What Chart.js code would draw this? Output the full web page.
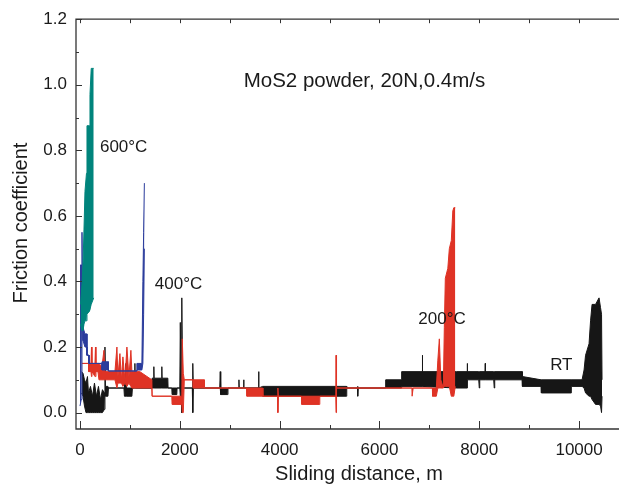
<!DOCTYPE html>
<html>
<head>
<meta charset="utf-8">
<script src="https://cdn.jsdelivr.net/npm/chart.js@4.4.0/dist/chart.umd.min.js"></script>
<style>
  html, body { margin: 0; padding: 0; background: #fff; }
  #wrap { width: 619px; height: 486px; position: relative; }
</style>
</head>
<body>
<div id="wrap"><canvas id="friction"></canvas></div>
<script>
// Friction coefficient vs sliding distance (MoS2 powder, 20N, 0.4m/s)
const FONT = '"Liberation Sans", Arial, Helvetica, sans-serif';

// axis ticks
const xMajorTicks = [0, 2000, 4000, 6000, 8000, 10000];
const xMinorTicks = [1000, 3000, 5000, 7000, 9000];
const yMajorTicks = [0, 0.2, 0.4, 0.6, 0.8, 1.0, 1.2];
const yMinorTicks = [0.1, 0.3, 0.5, 0.7, 0.9, 1.1];

// every run is drawn as the band between its upper and lower trace
// 600°C (teal)
const t600Dist = [10, 40, 60, 80, 100, 130, 140, 190, 200, 225, 275];
const t600Hi   = [0.33, 0.39, 0.45, 0.56, 0.675, 0.73, 0.875, 0.875, 0.97, 1.05, 1.05];
const t600Lo   = [0.27, 0.25, 0.25, 0.27, 0.28, 0.28, 0.30, 0.31, 0.31, 0.33, 0.35];

// 400°C (blue)
const t400Dist = [0, 25, 40, 55, 60, 100, 140, 140, 180, 180, 440, 440, 570, 570, 1140, 1140, 1240, 1260, 1275, 1290];
const t400Hi   = [0.45, 0.45, 0.55, 0.32, 0.26, 0.24, 0.24, 0.175, 0.175, 0.15, 0.15, 0.155, 0.155, 0.127, 0.127, 0.15, 0.15, 0.40, 0.55, 0.70];
const t400Lo   = [0.02, 0.04, 0.28, 0.28, 0.22, 0.20, 0.20, 0.175, 0.175, 0.15, 0.15, 0.13, 0.13, 0.127, 0.127, 0.13, 0.13, 0.15, 0.30, 0.50];

// 200°C (red)
const t200Dist = [40, 170, 175, 220, 230, 240, 300, 310, 320, 360,
                  380, 440, 480, 500, 700, 740, 760, 800, 830, 860,
                  900, 940, 980, 1020, 1040, 1200, 1440, 1445, 1840, 1845,
                  2040, 2050, 2070, 2090, 2260, 2265, 2490, 2495, 3340, 3345,
                  3660, 3665, 3960, 3965, 3975, 4440, 4445, 4800, 4805, 5125,
                  5130, 5140, 6650, 6655, 6670, 6675, 7060, 7065, 7140, 7170,
                  7200, 7230, 7280, 7300, 7320, 7370, 7400, 7440, 7470, 7490,
                  7520];
const t200Hi   = [0.15, 0.15, 0.15, 0.15, 0.20, 0.15, 0.15, 0.20, 0.15, 0.15,
                  0.15, 0.14, 0.19, 0.125, 0.125, 0.20, 0.11, 0.18, 0.10, 0.17,
                  0.10, 0.20, 0.11, 0.19, 0.125, 0.125, 0.10, 0.05, 0.05, 0.05,
                  0.05, 0.225, 0.12, 0.10, 0.10, 0.10, 0.10, 0.075, 0.075, 0.075,
                  0.075, 0.05, 0.05, 0.075, 0.05, 0.05, 0.05, 0.05, 0.05, 0.05,
                  0.175, 0.075, 0.075, 0.075, 0.075, 0.075, 0.075, 0.075, 0.075, 0.16,
                  0.225, 0.10, 0.075, 0.26, 0.41, 0.44, 0.50, 0.525, 0.615, 0.625,
                  0.625];
const t200Lo   = [0.15, 0.15, 0.125, 0.125, 0.11, 0.125, 0.11, 0.11, 0.125, 0.125,
                  0.10, 0.10, 0.10, 0.10, 0.10, 0.075, 0.09, 0.09, 0.09, 0.08,
                  0.09, 0.08, 0.09, 0.08, 0.075, 0.075, 0.075, 0.05, 0.05, 0.025,
                  0.025, 0.0, 0.0, 0.10, 0.10, 0.075, 0.075, 0.075, 0.075, 0.05,
                  0.05, 0.05, 0.05, 0.0, 0.05, 0.05, 0.025, 0.025, 0.05, 0.05,
                  0.0, 0.075, 0.075, 0.05, 0.05, 0.075, 0.075, 0.05, 0.05, 0.075,
                  0.075, 0.075, 0.075, 0.08, 0.08, 0.08, 0.08, 0.05, 0.05, 0.05,
                  0.08];

// RT (black)
const rtDist = [30, 60, 90, 120, 150, 170, 210, 250, 290, 330,
                370, 410, 450, 490, 500, 510, 560, 570, 880, 890,
                920, 930, 1040, 1050, 1095, 1100, 1105, 1440, 1445, 1475,
                1480, 1485, 1635, 1640, 1645, 1760, 1765, 1840, 1845, 1940,
                1945, 2000, 2010, 2025, 2040, 2055, 2250, 2260, 2270, 2800,
                2810, 2820, 2960, 2965, 3180, 3185, 3190, 3275, 3280, 3285,
                3575, 3580, 3585, 3660, 5340, 5345, 5560, 5565, 5575, 6120,
                6125, 6440, 6445, 6855, 6860, 6865, 7540, 7755, 7760, 7765,
                7990, 8000, 8010, 8115, 8120, 8125, 8290, 8300, 8310, 8860,
                8865, 9240, 9245, 9840, 9845, 10060, 10100, 10130, 10200, 10230,
                10260, 10330, 10400, 10430, 10450, 10460];
const rtHi   = [0.125, 0.12, 0.10, 0.09, 0.11, 0.06, 0.08, 0.05, 0.09, 0.05,
                0.08, 0.04, 0.07, 0.06, 0.20, 0.08, 0.08, 0.075, 0.075, 0.075,
                0.15, 0.075, 0.075, 0.075, 0.075, 0.15, 0.075, 0.075, 0.105, 0.105,
                0.14, 0.105, 0.105, 0.14, 0.105, 0.105, 0.075, 0.075, 0.075, 0.075,
                0.075, 0.075, 0.275, 0.10, 0.35, 0.075, 0.075, 0.15, 0.075, 0.075,
                0.125, 0.075, 0.075, 0.075, 0.075, 0.10, 0.075, 0.075, 0.10, 0.075,
                0.075, 0.125, 0.075, 0.08, 0.08, 0.075, 0.075, 0.08, 0.075, 0.075,
                0.10, 0.10, 0.125, 0.125, 0.175, 0.125, 0.125, 0.125, 0.15, 0.125,
                0.125, 0.125, 0.125, 0.125, 0.15, 0.125, 0.125, 0.125, 0.125, 0.125,
                0.11, 0.10, 0.10, 0.10, 0.10, 0.10, 0.13, 0.175, 0.21, 0.28,
                0.33, 0.33, 0.35, 0.32, 0.30, 0.10];
const rtLo   = [0.06, 0.05, 0.02, 0.0, 0.0, 0.0, 0.0, 0.0, 0.0, 0.0,
                0.0, 0.0, 0.0, 0.01, 0.05, 0.05, 0.05, 0.075, 0.075, 0.05,
                0.05, 0.05, 0.05, 0.075, 0.075, 0.075, 0.075, 0.075, 0.075, 0.075,
                0.075, 0.075, 0.075, 0.075, 0.075, 0.075, 0.075, 0.075, 0.055, 0.055,
                0.075, 0.075, 0.05, 0.05, 0.0, 0.075, 0.075, 0.0, 0.075, 0.075,
                0.075, 0.055, 0.055, 0.075, 0.075, 0.075, 0.075, 0.075, 0.075, 0.075,
                0.075, 0.075, 0.075, 0.05, 0.05, 0.075, 0.075, 0.05, 0.075, 0.075,
                0.075, 0.075, 0.08, 0.08, 0.08, 0.08, 0.075, 0.075, 0.075, 0.10,
                0.10, 0.075, 0.10, 0.10, 0.10, 0.10, 0.10, 0.075, 0.10, 0.10,
                0.08, 0.08, 0.06, 0.06, 0.08, 0.08, 0.075, 0.06, 0.05, 0.05,
                0.04, 0.025, 0.025, 0.02, 0.0, 0.05];

// labels written on the plot, placed in data units
const notes = [
  { text: 'MoS2 powder, 20N,0.4m/s', x: 3280, y: 1.01, size: 20.5 },
  { text: '600°C', x: 400, y: 0.81, size: 17 },
  { text: '400°C', x: 1500, y: 0.39, size: 17 },
  { text: '200°C', x: 6780, y: 0.285, size: 17 },
  { text: 'RT', x: 9420, y: 0.145, size: 17 }
];

const TEAL = '#00847c';
const BLUE = '#2b3c9c';
const RED = '#df3325';
const BLACK = '#161616';

function bandSets(label, color, dist, hi, lo) {
    const pts = arr => dist.map((d, i) => ({ x: d, y: arr[i] }));
    const base = { borderColor: color, backgroundColor: color, borderWidth: 1, pointRadius: 0, tension: 0 };
    return [
        Object.assign({ label: label + ' low', data: pts(lo), fill: false }, base),
        Object.assign({ label: label, data: pts(hi), fill: '-1' }, base)
    ];
}

// frame with inward ticks, titles and notes
const framePlugin = {
    id: 'frame',
    afterDatasetsDraw(chart) {
        const { ctx, chartArea: a, scales: { x, y } } = chart;
        ctx.save();
        ctx.strokeStyle = '#333';
        ctx.lineWidth = 1.3;
        ctx.beginPath();
        ctx.moveTo(a.right, a.top);
        ctx.lineTo(a.left, a.top);
        ctx.lineTo(a.left, a.bottom);
        ctx.lineTo(a.right, a.bottom);
        ctx.stroke();

        ctx.lineWidth = 1;
        ctx.beginPath();
        xMajorTicks.concat(xMinorTicks).forEach(v => {
            const px = Math.round(x.getPixelForValue(v)) + 0.5;
            const len = xMajorTicks.includes(v) ? 8 : 4;
            ctx.moveTo(px, a.bottom);
            ctx.lineTo(px, a.bottom - len);
            ctx.moveTo(px, a.top);
            ctx.lineTo(px, a.top + 4);
        });
        yMajorTicks.concat(yMinorTicks).forEach(v => {
            const py = Math.round(y.getPixelForValue(v)) + 0.5;
            const len = yMajorTicks.includes(v) ? 6 : 3;
            ctx.moveTo(a.left, py);
            ctx.lineTo(a.left + len, py);
        });
        ctx.stroke();

        ctx.fillStyle = '#1a1a1a';
        ctx.textBaseline = 'middle';
        ctx.textAlign = 'left';
        notes.forEach(n => {
            ctx.font = n.size + 'px ' + FONT;
            ctx.fillText(n.text, x.getPixelForValue(n.x), y.getPixelForValue(n.y));
        });

        ctx.font = '20px ' + FONT;
        ctx.textAlign = 'center';
        ctx.fillText('Sliding distance, m', 359, 474);
        ctx.translate(21, 223);
        ctx.rotate(-Math.PI / 2);
        ctx.fillText('Friction coefficient', 0, 0);
        ctx.restore();
    }
};

new Chart(document.getElementById('friction'), {
    type: 'line',
    data: {
        datasets: [
            ...bandSets('600°C', TEAL, t600Dist, t600Hi, t600Lo),
            ...bandSets('400°C', BLUE, t400Dist, t400Hi, t400Lo),
            ...bandSets('200°C', RED, t200Dist, t200Hi, t200Lo),
            ...bandSets('RT', BLACK, rtDist, rtHi, rtLo)
        ]
    },
    options: {
        responsive: true,
        maintainAspectRatio: false,
        animation: false,
        layout: { padding: { top: 17, right: 0, left: 0, bottom: 0 } },
        plugins: {
            legend: { display: false },
            tooltip: { enabled: false }
        },
        scales: {
            x: {
                type: 'linear',
                min: -80,
                max: 10800,
                grid: { display: false, drawTicks: false },
                border: { display: false },
                afterBuildTicks: s => { s.ticks = xMajorTicks.map(v => ({ value: v })); },
                afterFit: s => { s.height = 57; },
                ticks: {
                    autoSkip: false,
                    maxRotation: 0,
                    padding: 11,
                    color: '#1a1a1a',
                    font: { family: FONT, size: 17 },
                    callback: v => String(v)
                }
            },
            y: {
                min: -0.05,
                max: 1.2,
                grid: { display: false, drawTicks: false },
                border: { display: false },
                afterBuildTicks: s => { s.ticks = yMajorTicks.map(v => ({ value: v })); },
                afterFit: s => { s.width = 76; },
                ticks: {
                    padding: 9,
                    color: '#1a1a1a',
                    font: { family: FONT, size: 17 },
                    callback: v => Number(v).toFixed(1)
                }
            }
        }
    },
    plugins: [framePlugin]
});
</script>
</body>
</html>
